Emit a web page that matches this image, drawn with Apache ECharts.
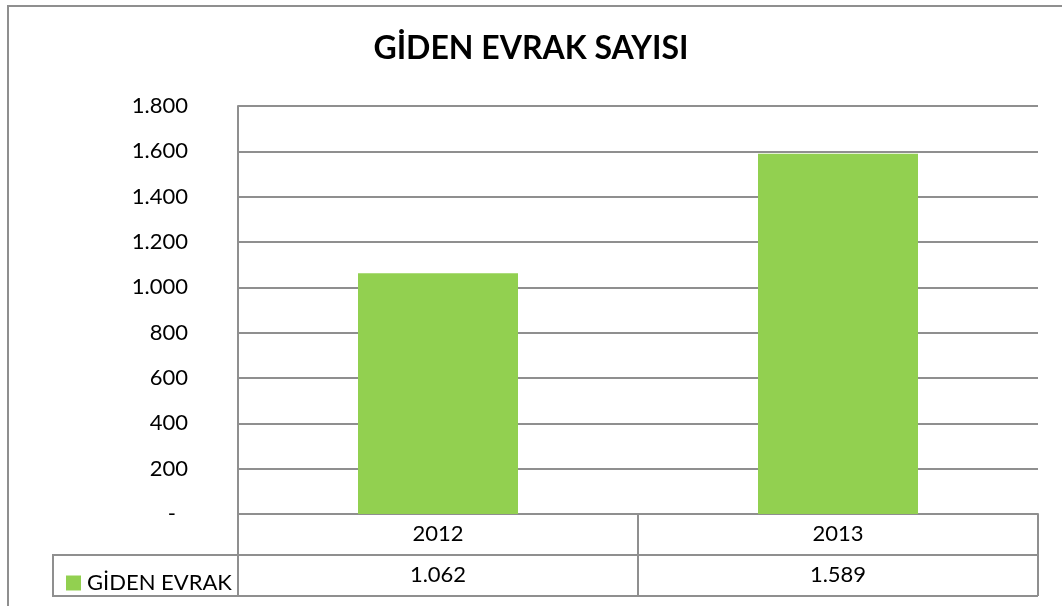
<!DOCTYPE html>
<html>
<head>
<meta charset="utf-8">
<script src="https://cdn.jsdelivr.net/npm/echarts@6/dist/echarts.min.js"></script>
<style>
  html, body { margin: 0; padding: 0; background: #fff; }
  #chart { width: 1062px; height: 606px; }
</style>
</head>
<body>
<div id="chart"></div>
<script>
// veriler
const years = ['2012', '2013']
const gidenEvrak = [1062, 1589]
const seriesName = 'GİDEN EVRAK'
const titleText = 'GİDEN EVRAK SAYISI'

// 1062 -> "1.062", 0 -> "-"
function trNum (v) {
  if (v === 0) return '-'
  return String(v).replace(/\B(?=(\d{3})+(?!\d))/g, '.')
}

const FONT = 'Lato'
const LINE = '#8f8f8f'

const chart = echarts.init(document.getElementById('chart'))

const option = {
  animation: false,
  textStyle: { fontFamily: FONT },
  title: {
    text: titleText,
    left: 'center',
    top: 28,
    textStyle: { fontFamily: FONT, fontWeight: 'bold', fontSize: 32, color: '#000' }
  },
  legend: {
    data: [seriesName],
    left: 61,
    top: 567,
    icon: 'rect',
    itemWidth: 15,
    itemHeight: 15,
    textStyle: { fontFamily: FONT, fontSize: 22, color: '#000', padding: [0, 0, 0, 1] }
  },
  grid: { left: 238, right: 24, top: 106, bottom: 92 },
  xAxis: [
    {
      type: 'category',
      data: years,
      axisLine: { lineStyle: { color: LINE, width: 2 } },
      axisTick: { show: true, length: 82, lineStyle: { color: LINE, width: 2 } },
      axisLabel: { fontFamily: FONT, fontSize: 22, color: '#000', margin: 9 }
    },
    {
      // tablonun değer satırı
      type: 'category',
      position: 'bottom',
      offset: 41,
      data: years,
      axisLine: { show: true, lineStyle: { color: LINE, width: 2 } },
      axisTick: { show: false },
      axisLabel: {
        fontFamily: FONT, fontSize: 22, color: '#000', margin: 9,
        formatter: (v, i) => trNum(gidenEvrak[i])
      }
    }
  ],
  yAxis: {
    type: 'value',
    min: 0,
    max: 1800,
    interval: 200,
    axisLine: { show: true, lineStyle: { color: LINE, width: 2 } },
    axisTick: { show: false },
    splitLine: { lineStyle: { color: LINE, width: 2 } },
    axisLabel: {
      fontFamily: FONT, fontSize: 22, color: '#000', margin: 50,
      formatter: v => v === 0 ? '{z|-}' : trNum(v),
      rich: { z: { fontFamily: FONT, fontSize: 22, color: '#000', padding: [0, 12, 0, 0] } }
    }
  },
  series: [
    {
      name: seriesName,
      type: 'bar',
      xAxisIndex: 0,
      data: gidenEvrak,
      barWidth: '40%',
      itemStyle: { color: '#92d050' }
    }
  ],
  graphic: [
    // dış çerçeve
    { type: 'rect', shape: { x: 8, y: 6, width: 1100, height: 700 },
      style: { fill: 'none', stroke: LINE, lineWidth: 2 }, z: 0 },
    // tablo gösterge hücresi
    { type: 'rect', shape: { x: 53, y: 555, width: 185, height: 41 },
      style: { fill: 'none', stroke: LINE, lineWidth: 2 }, z: 10 },
    { type: 'line', shape: { x1: 238, y1: 596, x2: 1038, y2: 596 },
      style: { stroke: LINE, lineWidth: 2 }, z: 10 }
  ]
}

chart.setOption(option)
</script>
</body>
</html>
